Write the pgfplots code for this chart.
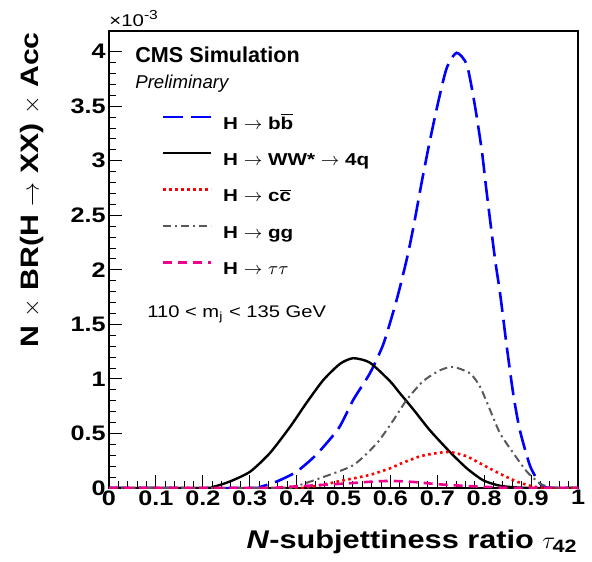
\documentclass[border=0pt]{standalone}
\usepackage{fontspec}
\setmainfont{Liberation Sans}
\newfontfamily\axisfont{Liberation Sans}[FakeStretch=1.2]
\usepackage{amsmath}
\usepackage{pgfplots}
\pgfplotsset{compat=1.18}

\pgfplotstableread{
x y
0 0
0.30 0
0.322 0.01
0.358 0.06
0.40 0.15
0.443 0.31
0.49 0.55
0.521 0.81
0.556 1.05
0.585 1.32
0.613 1.72
0.635 2.10
0.649 2.39
0.667 2.81
0.684 3.18
0.702 3.54
0.720 3.85
0.741 3.99
0.763 3.88
0.780 3.51
0.795 3.09
0.805 2.72
0.823 2.10
0.834 1.78
0.848 1.30
0.862 0.86
0.876 0.53
0.898 0.20
0.919 0.04
0.932 0.005
0.95 0
1 0
}\bbdata

\pgfplotstableread{
x y
0 0
0.20 0
0.222 0.01
0.258 0.06
0.301 0.15
0.343 0.32
0.386 0.56
0.421 0.78
0.457 0.99
0.493 1.14
0.521 1.19
0.556 1.15
0.599 0.98
0.620 0.87
0.649 0.72
0.684 0.53
0.727 0.33
0.763 0.18
0.798 0.07
0.834 0.02
0.87 0.005
0.90 0
1 0
}\wwdata

\pgfplotstableread{
x y
0 0
0.38 0
0.43 0.01
0.50 0.07
0.556 0.12
0.599 0.18
0.620 0.22
0.663 0.29
0.699 0.32
0.727 0.33
0.763 0.29
0.798 0.21
0.834 0.13
0.869 0.06
0.898 0.02
0.919 0.005
0.94 0
1 0
}\ccdata

\pgfplotstableread{
x y
0 0
0.36 0
0.393 0.01
0.45 0.09
0.521 0.21
0.571 0.41
0.606 0.62
0.635 0.81
0.670 0.98
0.706 1.08
0.734 1.11
0.770 1.05
0.791 0.93
0.812 0.72
0.834 0.50
0.862 0.32
0.891 0.15
0.919 0.04
0.940 0.01
0.96 0
1 0
}\ggdata

\pgfplotstableread{
x y
0 0
0.33 0
0.36 0.005
0.42 0.02
0.50 0.04
0.56 0.058
0.60 0.065
0.65 0.055
0.70 0.035
0.756 0.02
0.83 0.005
0.87 0
1 0
}\ttdata

\begin{document}
\begin{tikzpicture}
\useasboundingbox (-54.5pt,-36.5pt) rectangle (241.5pt,244pt);
\begin{axis}[
  name=ax,
  scale only axis,
  width=234.5pt, height=228.5pt,
  xmin=0, xmax=1, ymin=0, ymax=4.19,
  axis line style={line width=0.6pt},
  xtick={0,0.1,0.2,0.3,0.4,0.5,0.6,0.7,0.8,0.9,1},
  ytick={0,0.5,1,1.5,2,2.5,3,3.5,4},
  minor x tick num=4, minor y tick num=4,
  tick align=inside,
  xtick pos=bottom, ytick pos=left,
  major tick length=6.5pt, minor tick length=3.5pt,
  tick style={black, line width=0.5pt},
  scaled y ticks=false,
  /pgf/number format/assume math mode=true,
  ticklabel style={font=\axisfont\bfseries\fontsize{10.5}{12}\selectfont},
  xticklabel style={/pgf/number format/fixed, /pgf/number format/precision=1, inner sep=1pt},
  yticklabel style={/pgf/number format/fixed, /pgf/number format/precision=1, inner sep=1.5pt},
  xlabel={\textit{N}-subjettiness ratio $\tau_{\text{42}}$},
  xlabel style={font=\axisfont\bfseries\fontsize{12.8}{14}\selectfont, at={(rel axis cs:1,0)}, anchor=base east, yshift=-30.3pt, inner sep=0pt},
  ylabel={N $\times$ BR(H $\rightarrow$ XX) $\times$ Acc},
  ylabel style={font=\axisfont\bfseries\fontsize{12.6}{14}\selectfont, at={(rel axis cs:-0.1642,0.998)}, anchor=east, inner sep=0pt},
  legend cell align=left,
  legend style={draw=none, fill=none, at={(rel axis cs:0.113,0.815)}, anchor=north west,
    inner sep=0pt, outer sep=0pt, row sep=11.5pt, column sep=5.3pt,
    font=\axisfont\bfseries\fontsize{8.6}{10}\selectfont,
    nodes={inner sep=0pt, text height=6.2pt, text depth=0pt}},
  legend image code/.code={\draw[#1] (0pt,3pt) -- (24pt,3pt);},
]
\addplot[blue, line width=1.3pt, dash pattern=on 10pt off 4pt, smooth, tension=0.4] table {\bbdata};
\addlegendentry{H $\rightarrow$ b$\overline{\mbox{b}}$}
\addplot[black, line width=1.2pt, smooth, tension=0.4] table {\wwdata};
\addlegendentry{H $\rightarrow$ WW* $\rightarrow$ 4q}
\addplot[red, line width=1.3pt, dash pattern=on 1.3pt off 1.7pt, smooth, tension=0.4] table {\ccdata};
\addlegendentry{H $\rightarrow$ c$\overline{\mbox{c}}$}
\addplot[black!65, line width=1pt, dash pattern=on 4pt off 2pt on 1pt off 2pt, smooth, tension=0.4] table {\ggdata};
\addlegendentry{H $\rightarrow$ gg}
\addplot[magenta, line width=1.3pt, dash pattern=on 4.5pt off 3pt, smooth, tension=0.4] table {\ttdata};
\addlegendentry{H $\rightarrow$ $\tau\tau$}

\node[anchor=base west, inner sep=0pt, font=\bfseries\fontsize{10.8}{12}\selectfont] at (rel axis cs:0.0554,0.930) {CMS Simulation};
\node[anchor=base west, inner sep=0pt, font=\itshape\fontsize{9.3}{11}\selectfont] at (rel axis cs:0.0554,0.8746) {Preliminary};
\node[anchor=base west, inner sep=0pt, font=\axisfont\fontsize{8.4}{10}\selectfont] at (rel axis cs:0.081,0.374) {110 < m\textsubscript{j} < 135 GeV};
\end{axis}
\node[anchor=base west, inner sep=0pt, font=\axisfont\fontsize{8.5}{10}\selectfont] at ([yshift=2pt]ax.north west) {×10\raisebox{0.45em}{\fontsize{6.5}{7}\selectfont -3}};
\end{tikzpicture}
\end{document}
